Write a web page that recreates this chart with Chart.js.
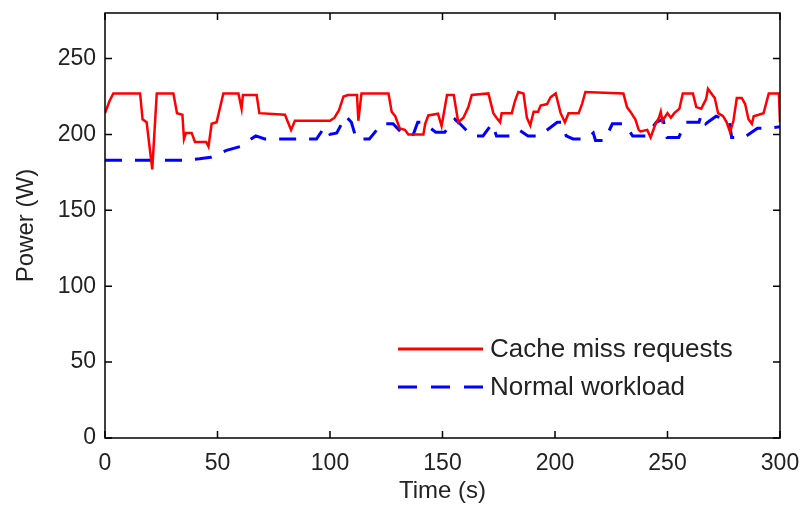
<!DOCTYPE html>
<html>
<head>
<meta charset="utf-8">
<script src="https://cdn.jsdelivr.net/npm/chart.js@4/dist/chart.umd.min.js"></script>
<style>
  html, body { margin: 0; padding: 0; background: #fff; }
  #wrap { width: 807px; height: 506px; position: relative; }
</style>
</head>
<body>
<div id="wrap"><canvas id="c" width="807" height="506"></canvas></div>
<script>
// ---- data ----
const seriesLabels = ['Cache miss requests', 'Normal workload'];

const cacheTime = [0,2,3.7,15.6,16.7,18.5,21,23,30.4,32,34.4,35.1,36,38.5,40,45,46,47.4,49.6,52.6,59.3,60.7,61.3,67.4,68.6,80,82.7,84.4,100,102,104,106,108,112,112.6,114,126,127.4,129,131,133.3,134.8,141.5,142.3,143.7,148,149.6,152,155,157,159.3,161.5,163,170.4,172.6,174,175.6,176.3,180.8,182.2,183.7,186,187.5,189,190.5,192.5,193.6,196.5,198,200.3,202.5,204.4,206,210.5,212,213.5,230.4,232,233.5,235.7,237.2,238,241,242.5,244.7,246.2,247,247.7,250,251.5,253,255.3,256.8,261.3,262.8,265,267.2,268,269.5,271,272.5,274.7,276.3,277.8,279.3,280.8,283,284.5,286,287.5,288.3,292.7,295,299.5,300];
const cachePower = [214,222,227,227,210,208,177,227,227,214,213,197,201,201,195,195,192,207,208,227,227,217,226,226,214,213,203,209,209,211,216,225,226,226,209,227,227,215,212,204,203,200,200,207,212.5,213.6,205.5,226,226,208,211,218,226,227,214,211,208,214,214,222,228,227,211,206,215,215,219,220,224.5,227,214,208,214,214,220,228,227,218,215,210,203,202,203,198,207,211,215,209,214,211,214,217,227,227,218,217,223.5,230,227,224,214,212,208,201.5,209,224,224,220,210,207,212,214,227,227,208];

const normalTime = [0,35,42,47,54,60,67,71,88,94,97.6,100,103,107,109.5,111.7,117.5,123,128,132.6,137,139,141,147,151,155.5,157.8,163,168,172,174,180,184,188,193,201,203,205,208,214,217,218,222,225.5,231,234.5,240.5,245,248,249.8,255,258,264,265,267,271.6,277.5,278.5,284,290,295,300];
const normalPower = [183,183,184,185,189.5,192,199,197,197,197,205,200,201,212,208,197,197,207,207,200,200,208,208,201.5,201.5,210,207,199,199,207,199,199,203,199,199,208,208,199,197,197,201,196,196,207,207,199,199,208,210,198,198,208,208,213,207,212,209,198,198,204,204,205];

const xTicks = [0, 50, 100, 150, 200, 250, 300];
const yTicks = [0, 50, 100, 150, 200, 250];

const toPoints = (xs, ys) => xs.map((x, i) => ({ x: x, y: ys[i] }));

const FONT = '"Liberation Sans", Arial, Helvetica, sans-serif';

// frame + inward ticks
const framePlugin = {
  id: 'frame',
  afterDraw(chart) {
    const { ctx, chartArea: a, scales } = chart;
    ctx.save();
    ctx.strokeStyle = '#000';
    ctx.lineWidth = 1.5;
    ctx.strokeRect(a.left, a.top, a.right - a.left, a.bottom - a.top);
    const L = 7;
    ctx.beginPath();
    scales.y.ticks.forEach(t => {
      const y = scales.y.getPixelForValue(t.value);
      ctx.moveTo(a.left, y); ctx.lineTo(a.left + L, y);
      ctx.moveTo(a.right, y); ctx.lineTo(a.right - L, y);
    });
    scales.x.ticks.forEach(t => {
      const x = scales.x.getPixelForValue(t.value);
      ctx.moveTo(x, a.bottom); ctx.lineTo(x, a.bottom - L);
      ctx.moveTo(x, a.top); ctx.lineTo(x, a.top + L);
    });
    ctx.stroke();
    ctx.restore();
  }
};

// legend inside plot area (no box)
const legendPlugin = {
  id: 'inlineLegend',
  afterDatasetsDraw(chart) {
    const { ctx, chartArea: a } = chart;
    const x0 = a.right - 382, x1 = a.right - 297, tx = a.right - 290;
    const ys = [a.bottom - 89, a.bottom - 51];
    ctx.save();
    chart.data.datasets.forEach((ds, i) => {
      ctx.beginPath();
      ctx.strokeStyle = ds.borderColor;
      ctx.lineWidth = 3;
      ctx.setLineDash(ds.borderDash ? [19, 14] : []);
      ctx.moveTo(x0, ys[i]);
      ctx.lineTo(x1, ys[i]);
      ctx.stroke();
      ctx.setLineDash([]);
      ctx.fillStyle = '#222';
      ctx.font = '26px ' + FONT;
      ctx.textBaseline = 'middle';
      ctx.textAlign = 'left';
      ctx.fillText(ds.label, tx, ys[i] + 1);
    });
    ctx.restore();
  }
};

new Chart(document.getElementById('c'), {
  type: 'line',
  data: {
    datasets: [
      {
        label: seriesLabels[0],
        data: toPoints(cacheTime, cachePower),
        borderColor: '#ff0000',
        borderWidth: 2.5,
        pointRadius: 0,
        tension: 0,
        fill: false
      },
      {
        label: seriesLabels[1],
        data: toPoints(normalTime, normalPower),
        borderColor: '#0000ff',
        borderWidth: 3,
        borderDash: [17, 13],
        pointRadius: 0,
        tension: 0,
        fill: false
      }
    ]
  },
  options: {
    responsive: false,
    animation: false,
    devicePixelRatio: 1,
    layout: { padding: { top: 13, right: 27, left: 0, bottom: 0 } },
    plugins: { legend: { display: false }, tooltip: { enabled: false } },
    scales: {
      x: {
        type: 'linear',
        min: 0, max: 300,
        afterBuildTicks: s => { s.ticks = xTicks.map(v => ({ value: v })); },
        afterFit: s => { s.height = 68; s.paddingRight = 0; s.paddingLeft = 0; },
        grid: { display: false, drawTicks: false },
        border: { display: false },
        ticks: { color: '#222', font: { family: FONT, size: 23 }, padding: 12, maxRotation: 0 },
        title: { display: true, text: 'Time (s)', color: '#222', font: { family: FONT, size: 24 }, padding: { top: 0, bottom: 0 } }
      },
      y: {
        type: 'linear',
        min: 0, max: 280,
        afterBuildTicks: s => { s.ticks = yTicks.map(v => ({ value: v })); },
        afterFit: s => { s.width = 105; s.paddingTop = 0; s.paddingBottom = 0; },
        grid: { display: false, drawTicks: false },
        border: { display: false },
        ticks: { color: '#222', font: { family: FONT, size: 23 }, padding: 9 },
        title: { display: true, text: 'Power (W)', color: '#222', font: { family: FONT, size: 24 }, padding: { top: 12, bottom: 0 } }
      }
    }
  },
  plugins: [framePlugin, legendPlugin]
});
</script>
</body>
</html>
